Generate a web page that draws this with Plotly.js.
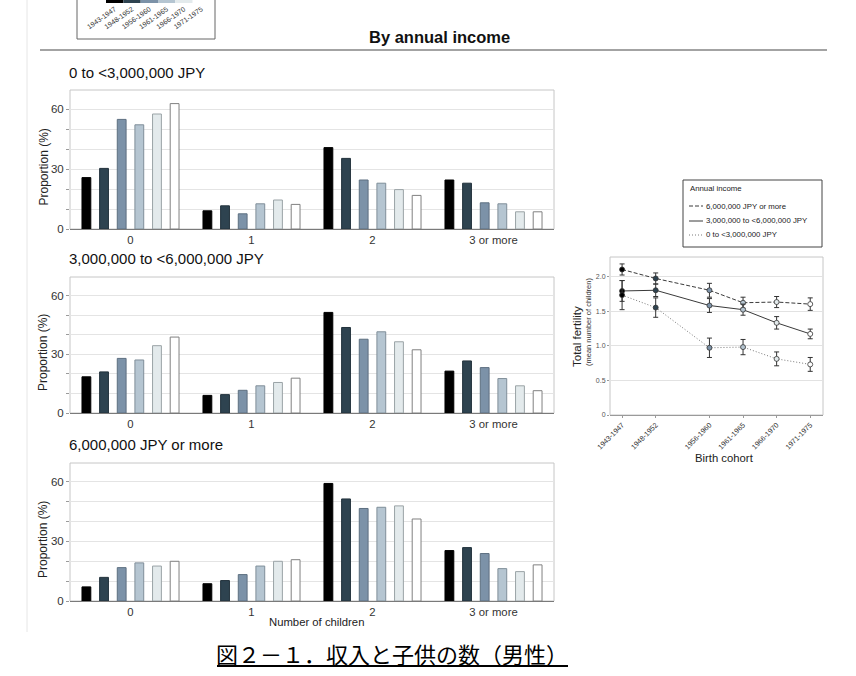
<!DOCTYPE html>
<html>
<head>
<meta charset="utf-8">
<script src="https://cdn.plot.ly/plotly-3.0.1.min.js"></script>
<style>
  html, body { margin: 0; padding: 0; background: #ffffff; }
  #chart { width: 856px; height: 676px; }
</style>
</head>
<body>
<div id="chart"></div>
<script>
// categories
const childCategories = ["0", "1", "2", "3 or more"];
const cohorts = ["1943-1947", "1948-1952", "1956-1960", "1961-1965", "1966-1970", "1971-1975"];
const cohortMid = [1945, 1950, 1958, 1963, 1968, 1973];
const cohortColors = ["#000000", "#2e4350", "#7c92a8", "#b5c5d1", "#e3eaec", "#ffffff"];
const cohortOutline = ["#000000", "#22323c", "#5d6f80", "#7f8e99", "#9aa3a6", "#808080"];

// proportion (%) of men by number of children, one array per cohort
const lowIncome = [
    [25.7, 9.1, 40.7, 24.5],
    [30.3, 11.6, 35.3, 22.9],
    [54.8, 7.6, 24.5, 13.1],
    [52.1, 12.6, 22.9, 12.6],
    [57.5, 14.5, 19.7, 8.6],
    [62.7, 12.3, 16.8, 8.6],
];
const midIncome = [
    [18.5, 9.0, 51.4, 21.4],
    [21.0, 9.4, 43.7, 26.6],
    [27.9, 11.6, 37.7, 23.2],
    [27.1, 13.9, 41.5, 17.6],
    [34.4, 15.6, 36.4, 13.9],
    [38.8, 17.8, 32.3, 11.4],
];
const highIncome = [
    [7.1, 8.7, 59.2, 25.4],
    [11.9, 10.3, 51.4, 26.9],
    [16.8, 13.3, 46.6, 23.9],
    [19.2, 17.6, 47.2, 16.3],
    [17.6, 20.0, 47.9, 14.8],
    [20.0, 20.8, 41.3, 18.2],
];

// total fertility by cohort
const fertHigh = [2.10, 1.97, 1.80, 1.62, 1.63, 1.60];
const fertHighErr = [0.08, 0.08, 0.10, 0.08, 0.08, 0.09];
const fertMid = [1.79, 1.80, 1.58, 1.52, 1.33, 1.17];
const fertMidErr = [0.15, 0.09, 0.10, 0.08, 0.09, 0.07];
const fertLow = [1.73, 1.55, 0.97, 0.98, 0.81, 0.73];
const fertLowErr = [0.21, 0.14, 0.14, 0.11, 0.10, 0.10];

const panelTitles = ["0 to <3,000,000 JPY", "3,000,000 to <6,000,000 JPY", "6,000,000 JPY or more"];
const incomeLabels = ["6,000,000 JPY or more", "3,000,000 to <6,000,000 JPY", "0 to <3,000,000 JPY"];

const W = 856, H = 676;
const fx = (p) => p / W;
const fy = (p) => 1 - p / H;
const FONT = "\"Liberation Sans\", Arial, Helvetica, sans-serif";

const panels = [
    { data: lowIncome, top: 90, bottom: 229, title: panelTitles[0], titleY: 73 },
    { data: midIncome, top: 277, bottom: 413, title: panelTitles[1], titleY: 258 },
    { data: highIncome, top: 463, bottom: 601, title: panelTitles[2], titleY: 444 },
];

const traces = [];
const layout = {
    width: W,
    height: H,
    margin: { t: 0, r: 0, b: 0, l: 0 },
    paper_bgcolor: "#ffffff",
    plot_bgcolor: "#ffffff",
    font: { family: FONT, color: "#333333", size: 10 },
    showlegend: false,
    barmode: "group",
    bargap: 0.125,
    bargroupgap: 0.5,
    shapes: [],
    annotations: [],
};

panels.forEach((panel, pi) => {
    const n = pi + 1;
    const xName = n === 1 ? "x" : "x" + n;
    const yName = n === 1 ? "y" : "y" + n;
    panel.data.forEach((values, ci) => {
        traces.push({
            type: "bar",
            x: childCategories,
            y: values,
            xaxis: xName,
            yaxis: yName,
            name: cohorts[ci],
            marker: {
                color: cohortColors[ci],
                line: { color: cohortOutline[ci], width: 1 },
            },
            hovertemplate: cohorts[ci] + ": %{y}%<extra></extra>",
        });
    });
    layout["xaxis" + (n === 1 ? "" : n)] = {
        domain: [fx(70), fx(554)],
        anchor: yName,
        type: "category",
        showgrid: false,
        showline: true,
        linecolor: "#7a7a7a",
        linewidth: 1,
        ticks: "",
        tickfont: { size: 11.3, color: "#333333" },
        fixedrange: true,
    };
    layout["yaxis" + (n === 1 ? "" : n)] = {
        domain: [fy(panel.bottom), fy(panel.top)],
        anchor: xName,
        range: [0, 69.5],
        tickvals: [0, 10, 20, 30, 40, 50, 60],
        ticktext: ["0", "", "", "30", "", "", "60"],
        gridcolor: "#e4e4e4",
        gridwidth: 1,
        zeroline: false,
        showline: false,
        ticks: "outside",
        ticklen: 3,
        tickcolor: "#9a9a9a",
        tickfont: { size: 11.5, color: "#333333" },
        fixedrange: true,
    };
    layout.shapes.push({
        type: "rect",
        xref: xName + " domain",
        yref: yName + " domain",
        x0: 0, x1: 1, y0: 0, y1: 1,
        line: { color: "#c6c6c6", width: 1 },
        layer: "below",
    });
    layout.annotations.push({
        text: panel.title,
        xref: "paper", yref: "paper",
        x: fx(67), y: fy(panel.titleY),
        xanchor: "left", yanchor: "middle",
        showarrow: false,
        font: { size: 15, color: "#111111" },
    });
    layout.annotations.push({
        text: "Proportion (%)",
        xref: "paper", yref: "paper",
        x: fx(43), y: fy((panel.top + panel.bottom) / 2 + 8),
        xanchor: "center", yanchor: "middle",
        textangle: -90,
        showarrow: false,
        font: { size: 12, color: "#222222" },
    });
});

// line chart of total fertility
const lineSeries = [
    { y: fertHigh, err: fertHighErr, dash: "4px,2px", color: "#3a3a3a", name: incomeLabels[0] },
    { y: fertMid, err: fertMidErr, dash: "solid", color: "#3a3a3a", name: incomeLabels[1] },
    { y: fertLow, err: fertLowErr, dash: "1px,2px", color: "#7a7a7a", name: incomeLabels[2] },
];
lineSeries.forEach((s) => {
    traces.push({
        type: "scatter",
        mode: "lines+markers",
        x: cohortMid,
        y: s.y,
        xaxis: "x4",
        yaxis: "y4",
        name: s.name,
        line: { color: s.color, width: 1, dash: s.dash },
        marker: {
            size: 5,
            color: cohortColors,
            line: { color: "#333333", width: 0.8 },
        },
        error_y: {
            type: "data",
            array: s.err,
            visible: true,
            color: "#333333",
            thickness: 1,
            width: 2.5,
        },
        hovertemplate: s.name + ": %{y:.2f}<extra></extra>",
    });
});
layout.xaxis4 = {
    domain: [fx(610), fx(823)],
    anchor: "y4",
    range: [1943.2, 1974.9],
    tickvals: cohortMid,
    ticktext: cohorts,
    tickangle: -45,
    showgrid: false,
    zeroline: false,
    showline: true,
    linecolor: "#9a9a9a",
    ticks: "outside",
    ticklen: 2,
    tickcolor: "#9a9a9a",
    tickfont: { size: 7.2, color: "#333333" },
    fixedrange: true,
};
layout.yaxis4 = {
    domain: [fy(415), fy(257)],
    anchor: "x4",
    range: [0, 2.28],
    tickvals: [0, 0.5, 1, 1.5, 2],
    ticktext: ["0", "0.5", "1.0", "1.5", "2.0"],
    gridcolor: "#e2e2e2",
    zeroline: false,
    showline: false,
    ticks: "outside",
    ticklen: 2,
    tickcolor: "#9a9a9a",
    tickfont: { size: 7, color: "#555555" },
    fixedrange: true,
};
layout.shapes.push({
    type: "rect",
    xref: "x4 domain", yref: "y4 domain",
    x0: 0, x1: 1, y0: 0, y1: 1,
    line: { color: "#c6c6c6", width: 1 },
    layer: "below",
});
layout.annotations.push(
    {
        text: "Birth cohort",
        xref: "paper", yref: "paper",
        x: fx(724), y: fy(458),
        xanchor: "center", yanchor: "middle",
        showarrow: false,
        font: { size: 11.3, color: "#222222" },
    },
    {
        text: "Total fertility",
        xref: "paper", yref: "paper",
        x: fx(577), y: fy(337),
        xanchor: "center", yanchor: "middle",
        textangle: -90,
        showarrow: false,
        font: { size: 11.5, color: "#222222" },
    },
    {
        text: "(mean number of children)",
        xref: "paper", yref: "paper",
        x: fx(588), y: fy(322),
        xanchor: "center", yanchor: "middle",
        textangle: -90,
        showarrow: false,
        font: { size: 7.5, color: "#333333" },
    },
);

// line chart legend box
layout.shapes.push({
    type: "rect",
    xref: "paper", yref: "paper",
    x0: fx(683), x1: fx(822), y0: fy(247), y1: fy(180),
    line: { color: "#444444", width: 1 },
    fillcolor: "#ffffff",
});
layout.annotations.push({
    text: "Annual income",
    xref: "paper", yref: "paper",
    x: fx(688), y: fy(189),
    xanchor: "left", yanchor: "middle",
    showarrow: false,
    font: { size: 7.8, color: "#222222" },
});
[206, 221, 235].forEach((py, i) => {
    layout.shapes.push({
        type: "line",
        xref: "paper", yref: "paper",
        x0: fx(689), x1: fx(703), y0: fy(py), y1: fy(py),
        line: { color: lineSeries[i].color, width: 1, dash: lineSeries[i].dash },
    });
    layout.annotations.push({
        text: incomeLabels[i],
        xref: "paper", yref: "paper",
        x: fx(704), y: fy(py),
        xanchor: "left", yanchor: "middle",
        showarrow: false,
        font: { size: 7.8, color: "#222222" },
    });
});

// cohort colour key, cut off at the top of the page
traces.push({
    type: "bar",
    x: cohorts,
    y: cohorts.map(() => 1),
    width: cohorts.map(() => 1),
    xaxis: "x5",
    yaxis: "y5",
    marker: { color: cohortColors, line: { width: 0 } },
    hoverinfo: "skip",
});
layout.xaxis5 = {
    domain: [fx(106), fx(210)],
    anchor: "y5",
    type: "category",
    showgrid: false,
    showline: false,
    ticks: "",
    tickangle: -35,
    tickfont: { size: 7, color: "#333333" },
    fixedrange: true,
};
layout.yaxis5 = {
    domain: [fy(3), 1],
    anchor: "x5",
    range: [0, 1],
    visible: false,
    fixedrange: true,
};
layout.shapes.push({
    type: "rect",
    xref: "paper", yref: "paper",
    x0: fx(77), x1: fx(215), y0: fy(39), y1: fy(-5),
    line: { color: "#666666", width: 1 },
});

// page decorations
layout.shapes.push(
    {
        type: "line",
        xref: "paper", yref: "paper",
        x0: fx(40), x1: fx(827), y0: fy(50), y1: fy(50),
        line: { color: "#a3a3a3", width: 2 },
    },
    {
        type: "line",
        xref: "paper", yref: "paper",
        x0: fx(27), x1: fx(27), y0: fy(632), y1: 1,
        line: { color: "#e6e6e6", width: 1 },
    },
    {
        type: "line",
        xref: "paper", yref: "paper",
        x0: fx(217), x1: fx(568), y0: fy(666), y1: fy(666),
        line: { color: "#000000", width: 2 },
    },
);
layout.annotations.push(
    {
        text: "<b>By annual income</b>",
        xref: "paper", yref: "paper",
        x: fx(440), y: fy(37),
        xanchor: "center", yanchor: "middle",
        showarrow: false,
        font: { size: 16.5, color: "#111111" },
    },
    {
        text: "Number of children",
        xref: "paper", yref: "paper",
        x: fx(316), y: fy(622),
        xanchor: "center", yanchor: "middle",
        showarrow: false,
        font: { size: 11.3, color: "#222222" },
    },
    {
        text: "図２－１．収入と子供の数（男性）",
        xref: "paper", yref: "paper",
        x: fx(392), y: fy(653),
        xanchor: "center", yanchor: "middle",
        showarrow: false,
        font: { family: "\"Noto Sans CJK JP\", sans-serif", size: 22, color: "#000000" },
    },
);

Plotly.newPlot("chart", traces, layout, { displayModeBar: false, staticPlot: true });
</script>
</body>
</html>
